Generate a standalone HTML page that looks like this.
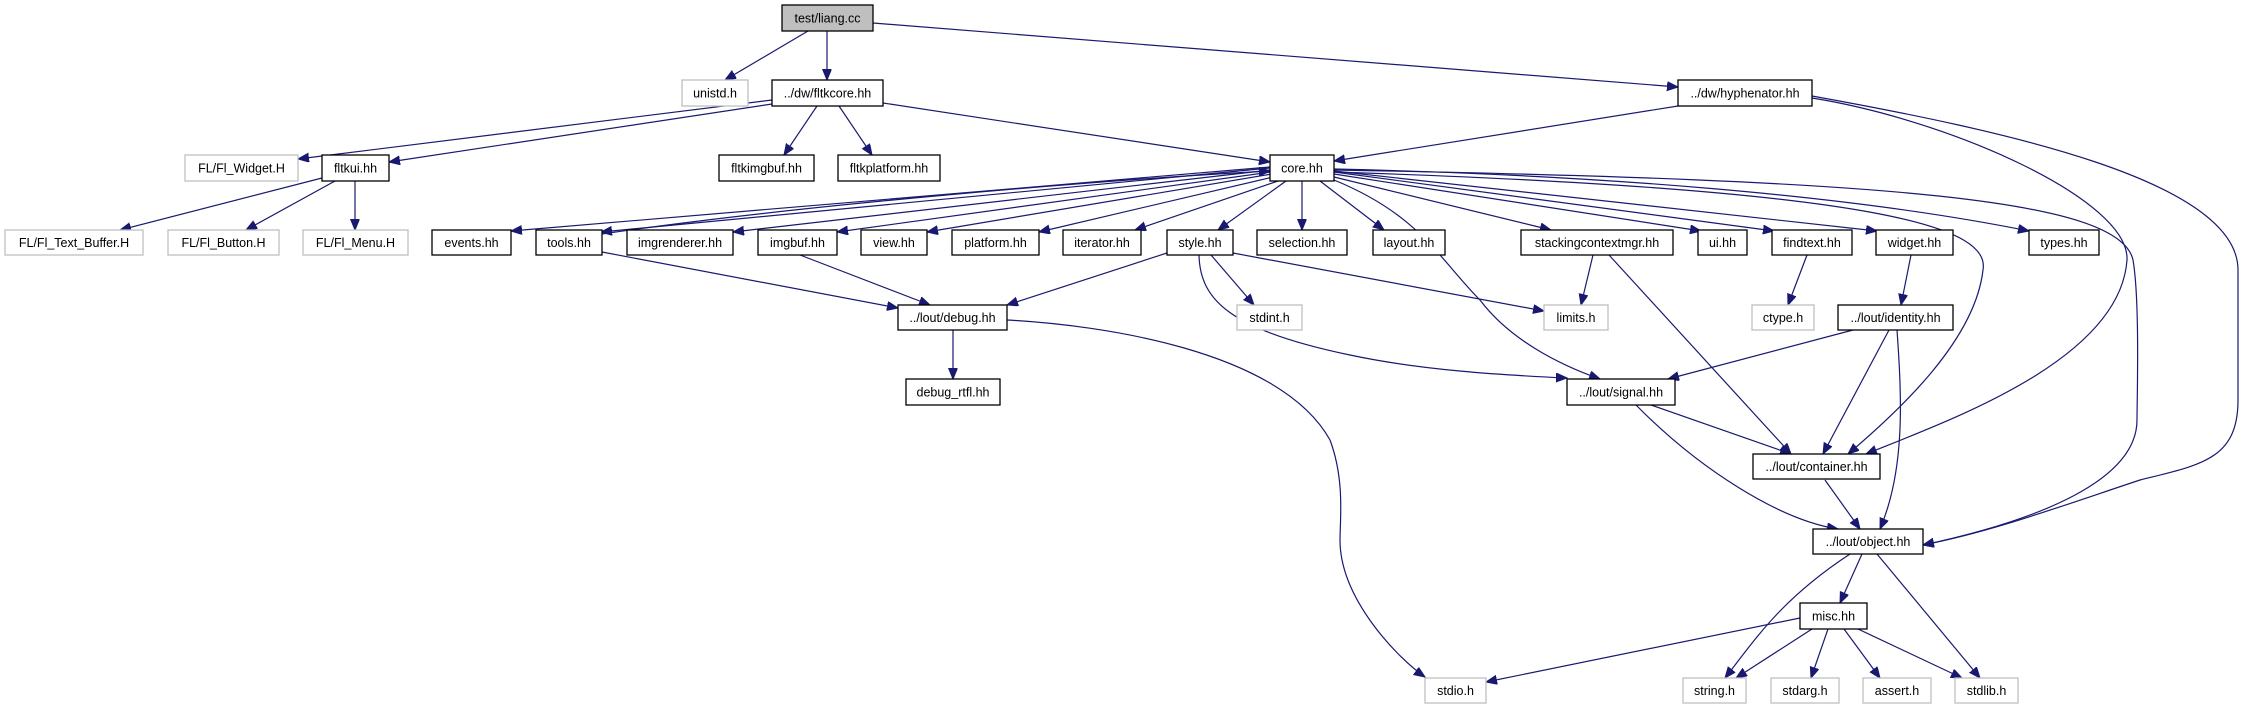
<!DOCTYPE html>
<html><head><meta charset="utf-8"><style>
html,body{margin:0;padding:0;background:#fff;}
svg{display:block;}
text{font-family:"Liberation Sans",Arial,sans-serif;font-size:12.5px;fill:#000;text-anchor:middle;}
.b{fill:#fff;stroke:#000;stroke-width:1.3;}
.g{fill:#fff;stroke:#bfbfbf;stroke-width:1.3;}
.e{fill:none;stroke:#191970;stroke-width:1.2;marker-end:url(#a);}
</style></head><body>
<svg width="2244" height="709" viewBox="0 0 2244 709" xmlns="http://www.w3.org/2000/svg">
<defs><marker id="a" markerUnits="userSpaceOnUse" markerWidth="12" markerHeight="10" refX="11" refY="4.5" orient="auto"><path d="M0,0 L11,4.5 L0,9 z" fill="#191970" stroke="#191970"/></marker></defs>
<!-- edges -->
<path class="e" d="M808,31 L725,80"/>
<path class="e" d="M827,31 L827,80"/>
<path class="e" d="M873,23 L1678,87"/>
<path class="e" d="M772,100 L298,159"/>
<path class="e" d="M772,104 L389,162"/>
<path class="e" d="M817,106 L784,155"/>
<path class="e" d="M839,106 L872,155"/>
<path class="e" d="M883,103 L1270,162"/>
<path class="e" d="M1678,106 L1334,161"/>
<path class="e" d="M1812,98 C1950,120 2130,200 2127,260 C2120,360 1950,420 1866,454"/>
<path class="e" d="M1812,96 C2000,130 2238,180 2238,270 L2238,400 C2238,460 2200,465 2140,480 C2050,510 1990,532 1923,545"/>
<path class="e" d="M322,178 L120,230"/>
<path class="e" d="M335,181 L246,230"/>
<path class="e" d="M355,181 L355,230"/>
<path class="e" d="M1270,167 L511,231"/>
<path class="e" d="M1270,168 L601,232"/>
<path class="e" d="M602,234 C800,205 1100,180 1270,171"/>
<path class="e" d="M1270,170 L733,232"/>
<path class="e" d="M1271,172 L837,232"/>
<path class="e" d="M1272,174 L927,232"/>
<path class="e" d="M1273,177 L1039,232"/>
<path class="e" d="M1278,181 L1135,230"/>
<path class="e" d="M1286,181 L1218,230"/>
<path class="e" d="M1302,181 L1302,230"/>
<path class="e" d="M1320,181 L1384,230"/>
<path class="e" d="M1334,177 L1551,230"/>
<path class="e" d="M1334,174 L1701,231"/>
<path class="e" d="M1334,172 L1774,231"/>
<path class="e" d="M1334,171 L1877,231"/>
<path class="e" d="M1334,169 C1600,175 1850,195 2029,231"/>
<path class="e" d="M1334,180 C1420,215 1440,260 1480,300 C1510,340 1560,365 1600,379"/>
<path class="e" d="M1334,172 C1900,190 1990,230 1983,270 C1975,340 1900,410 1848,454"/>
<path class="e" d="M1334,170 C1900,180 2120,200 2133,260 C2140,300 2137,400 2137,420 C2137,480 2040,520 1923,545"/>
<path class="e" d="M602,252 L898,308"/>
<path class="e" d="M800,255 L930,305"/>
<path class="e" d="M1167,253 L1007,305"/>
<path class="e" d="M1211,255 L1254,305"/>
<path class="e" d="M1233,253 L1544,311"/>
<path class="e" d="M1199,255 C1200,300 1230,330 1350,355 C1420,370 1500,375 1567,378"/>
<path class="e" d="M1593,255 L1581,305"/>
<path class="e" d="M1609,255 L1791,454"/>
<path class="e" d="M1807,255 L1788,305"/>
<path class="e" d="M1911,255 L1901,305"/>
<path class="e" d="M1853,330 L1668,379"/>
<path class="e" d="M1889,330 L1823,454"/>
<path class="e" d="M1897,330 C1902,400 1905,470 1880,529"/>
<path class="e" d="M1651,405 L1791,454"/>
<path class="e" d="M1636,405 C1700,470 1780,520 1838,529"/>
<path class="e" d="M1825,480 L1860,529"/>
<path class="e" d="M953,330 L953,379"/>
<path class="e" d="M1007,320 C1100,325 1280,350 1330,440 C1345,480 1340,520 1340,540 C1340,600 1400,660 1425,677"/>
<path class="e" d="M1862,554 L1840,603"/>
<path class="e" d="M1850,554 C1780,600 1755,640 1725,678"/>
<path class="e" d="M1877,554 L1980,678"/>
<path class="e" d="M1800,618 L1486,682"/>
<path class="e" d="M1812,629 L1736,678"/>
<path class="e" d="M1828,629 L1811,678"/>
<path class="e" d="M1844,629 L1880,678"/>
<path class="e" d="M1858,629 L1962,678"/>
<!-- nodes -->
<rect x="782" y="5" width="91" height="26" fill="#bfbfbf" stroke="#000" stroke-width="1.3"/><text x="827.5" y="22.5">test/liang.cc</text>
<rect class="g" x="682" y="80" width="66" height="26"/><text x="715" y="97.5">unistd.h</text>
<rect class="b" x="772" y="80" width="111" height="26"/><text x="827.5" y="97.5">../dw/fltkcore.hh</text>
<rect class="b" x="1678" y="80" width="134" height="26"/><text x="1745" y="97.5">../dw/hyphenator.hh</text>
<rect class="g" x="185" y="155" width="113" height="26"/><text x="241.5" y="172.5">FL/Fl_Widget.H</text>
<rect class="b" x="322" y="155" width="67" height="26"/><text x="355.5" y="172.5">fltkui.hh</text>
<rect class="b" x="719" y="155" width="95" height="26"/><text x="766.5" y="172.5">fltkimgbuf.hh</text>
<rect class="b" x="838" y="155" width="102" height="26"/><text x="889" y="172.5">fltkplatform.hh</text>
<rect class="b" x="1270" y="155" width="64" height="26"/><text x="1302" y="172.5">core.hh</text>
<rect class="g" x="5" y="230" width="138" height="25"/><text x="74" y="247">FL/Fl_Text_Buffer.H</text>
<rect class="g" x="168" y="230" width="111" height="25"/><text x="223.5" y="247">FL/Fl_Button.H</text>
<rect class="g" x="303" y="230" width="105" height="25"/><text x="355.5" y="247">FL/Fl_Menu.H</text>
<rect class="b" x="432" y="230" width="79" height="25"/><text x="471.5" y="247">events.hh</text>
<rect class="b" x="536" y="230" width="66" height="25"/><text x="569" y="247">tools.hh</text>
<rect class="b" x="627" y="230" width="106" height="25"/><text x="680" y="247">imgrenderer.hh</text>
<rect class="b" x="758" y="230" width="79" height="25"/><text x="797.5" y="247">imgbuf.hh</text>
<rect class="b" x="861" y="230" width="66" height="25"/><text x="894" y="247">view.hh</text>
<rect class="b" x="952" y="230" width="87" height="25"/><text x="995.5" y="247">platform.hh</text>
<rect class="b" x="1063" y="230" width="78" height="25"/><text x="1102" y="247">iterator.hh</text>
<rect class="b" x="1167" y="230" width="66" height="25"/><text x="1200" y="247">style.hh</text>
<rect class="b" x="1257" y="230" width="90" height="25"/><text x="1302" y="247">selection.hh</text>
<rect class="b" x="1373" y="230" width="72" height="25"/><text x="1409" y="247">layout.hh</text>
<rect class="b" x="1521" y="230" width="152" height="25"/><text x="1597" y="247">stackingcontextmgr.hh</text>
<rect class="b" x="1698" y="230" width="49" height="25"/><text x="1722.5" y="247">ui.hh</text>
<rect class="b" x="1772" y="230" width="80" height="25"/><text x="1812" y="247">findtext.hh</text>
<rect class="b" x="1876" y="230" width="77" height="25"/><text x="1914.5" y="247">widget.hh</text>
<rect class="b" x="2029" y="230" width="70" height="25"/><text x="2064" y="247">types.hh</text>
<rect class="b" x="898" y="305" width="109" height="25"/><text x="952.5" y="322">../lout/debug.hh</text>
<rect class="g" x="1237" y="305" width="65" height="25"/><text x="1269.5" y="322">stdint.h</text>
<rect class="g" x="1544" y="305" width="64" height="25"/><text x="1576" y="322">limits.h</text>
<rect class="g" x="1752" y="305" width="62" height="25"/><text x="1783" y="322">ctype.h</text>
<rect class="b" x="1838" y="305" width="115" height="25"/><text x="1895.5" y="322">../lout/identity.hh</text>
<rect class="b" x="906" y="379" width="94" height="26"/><text x="953" y="396.5">debug_rtfl.hh</text>
<rect class="b" x="1567" y="379" width="108" height="26"/><text x="1621" y="396.5">../lout/signal.hh</text>
<rect class="b" x="1753" y="454" width="127" height="25"/><text x="1816.5" y="471">../lout/container.hh</text>
<rect class="b" x="1813" y="529" width="110" height="25"/><text x="1868" y="546">../lout/object.hh</text>
<rect class="b" x="1800" y="603" width="67" height="26"/><text x="1833.5" y="620.5">misc.hh</text>
<rect class="g" x="1425" y="678" width="61" height="25"/><text x="1455.5" y="695">stdio.h</text>
<rect class="g" x="1683" y="678" width="63" height="25"/><text x="1714.5" y="695">string.h</text>
<rect class="g" x="1771" y="678" width="68" height="25"/><text x="1805" y="695">stdarg.h</text>
<rect class="g" x="1863" y="678" width="68" height="25"/><text x="1897" y="695">assert.h</text>
<rect class="g" x="1955" y="678" width="63" height="25"/><text x="1986.5" y="695">stdlib.h</text>
</svg>
</body></html>
